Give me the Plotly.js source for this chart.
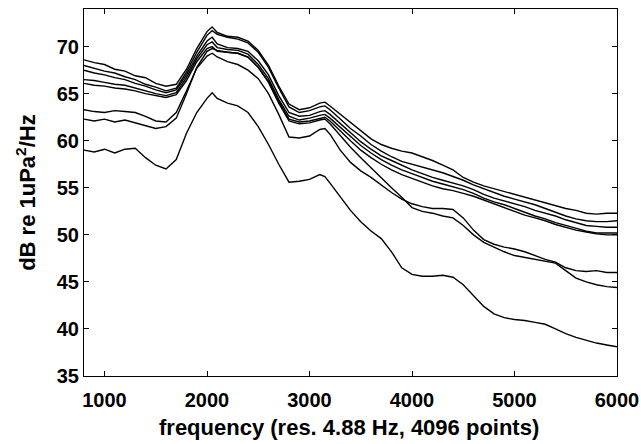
<!DOCTYPE html>
<html>
<head>
<meta charset="utf-8">
<script src="https://cdn.plot.ly/plotly-3.0.1.min.js"></script>
<style>html,body{margin:0;padding:0;background:#fff;}#chart{width:641px;height:444px;}</style>
</head>
<body>
<div id="chart"></div>
<script>
var freq = [800,900,1000,1100,1200,1300,1400,1500,1600,1700,1800,1900,2000,2050,2100,2200,2300,2400,2500,2600,2700,2800,2900,3000,3100,3150,3200,3300,3400,3500,3600,3700,3800,3900,4000,4100,4200,4300,4400,4500,4600,4700,4800,4900,5000,5100,5200,5300,5400,5500,5600,5700,5800,5900,6000];

var seriesA = [68.6,68.3,68.1,67.6,67.4,66.9,66.7,66.1,65.8,66.0,67.6,69.8,71.6,72.1,71.5,71.1,71.0,70.6,69.6,68.0,65.8,63.9,63.3,63.5,64.0,64.1,63.7,62.8,61.9,61.0,60.2,59.6,59.2,58.9,58.7,58.3,57.9,57.4,56.9,56.1,55.6,55.2,54.9,54.6,54.3,54.0,53.7,53.4,53.1,52.8,52.6,52.3,52.2,52.3,52.3];
var seriesB = [68.0,67.7,67.4,67.2,66.8,66.5,66.0,65.7,65.3,65.6,67.3,69.4,71.2,71.7,71.3,71.0,70.8,70.4,69.4,67.8,65.6,63.6,63.0,63.2,63.6,63.7,63.3,62.3,61.3,60.5,59.6,58.9,58.3,57.8,57.5,57.2,56.9,56.6,56.2,55.8,55.3,54.9,54.5,54.1,53.8,53.5,53.2,52.8,52.4,52.0,51.7,51.5,51.4,51.4,51.5];
var seriesC = [67.5,67.2,67.0,66.7,66.5,66.1,65.8,65.4,65.1,65.4,67.0,69.0,70.6,71.0,70.3,69.9,69.8,69.5,68.5,67.0,64.8,63.0,62.6,62.7,63.1,63.2,62.8,61.8,60.8,59.9,59.1,58.4,57.9,57.4,56.9,56.5,56.1,55.8,55.5,55.2,54.8,54.3,53.9,53.6,53.3,53.0,52.6,52.3,52.0,51.6,51.3,51.0,50.9,50.8,50.8];
var seriesD = [66.5,66.4,66.2,66.0,65.9,65.6,65.3,65.0,64.8,65.1,66.7,68.7,70.2,70.5,69.9,69.7,69.6,69.2,68.1,66.6,64.4,62.6,62.2,62.4,62.7,62.8,62.4,61.4,60.4,59.5,58.7,58.0,57.4,56.9,56.5,56.1,55.7,55.4,55.1,54.8,54.4,53.9,53.5,53.2,52.8,52.4,52.0,51.7,51.3,51.0,50.7,50.4,50.2,50.2,50.2];
var seriesH = [66.1,65.9,65.8,65.6,65.5,65.3,65.0,64.8,64.6,64.9,66.4,68.4,69.8,70.0,69.5,69.4,69.3,68.9,67.8,66.3,64.2,62.3,62.0,62.1,62.4,62.5,62.1,61.0,60.0,59.0,58.2,57.5,56.9,56.4,56.0,55.6,55.2,54.9,54.7,54.4,54.1,53.7,53.3,52.9,52.5,52.1,51.8,51.5,51.1,50.8,50.5,50.3,50.1,50.0,50.0];
var seriesE = [63.3,63.1,63.0,63.2,63.1,63.0,62.6,62.1,62.0,63.0,65.3,67.7,69.0,69.3,68.9,68.4,68.1,67.5,66.6,65.0,62.8,60.4,60.3,60.5,61.2,61.3,60.7,59.0,57.7,56.8,56.1,55.3,54.5,53.8,53.3,53.0,52.8,52.8,52.7,51.8,50.5,49.5,49.0,48.7,48.5,48.2,47.8,47.4,47.1,46.5,46.2,46.1,46.2,46.0,46.0];
var seriesF = [62.3,62.1,62.3,62.0,62.2,61.9,61.6,61.3,61.5,62.4,65.0,67.8,69.5,69.8,69.6,69.4,69.3,68.9,67.8,66.2,64.0,62.1,61.8,61.9,62.2,62.3,61.8,60.5,59.3,58.2,57.1,56.0,55.0,54.0,52.9,52.5,52.3,52.0,51.8,51.0,50.0,49.2,48.7,48.2,47.8,47.6,47.4,47.2,47.0,46.2,45.4,45.0,44.7,44.5,44.4];
var seriesG = [59.0,58.8,59.1,58.7,59.1,59.2,58.2,57.4,57.0,58.0,60.8,63.0,64.5,65.1,64.5,64.0,63.7,63.0,61.5,59.6,57.5,55.6,55.7,55.9,56.4,56.2,55.5,54.0,52.6,51.4,50.4,49.6,48.2,46.5,45.8,45.6,45.6,45.7,45.5,44.7,43.6,42.4,41.6,41.2,41.0,40.9,40.7,40.5,40.0,39.5,39.1,38.8,38.5,38.3,38.1];

var xTickVals = [1000,2000,3000,4000,5000,6000];
var yTickVals = [35,40,45,50,55,60,65,70];
var xTitle = 'frequency (res. 4.88 Hz, 4096 points)';
var yTitle = 'dB re 1uPa<sup>2</sup>/Hz';

var allSeries = [seriesA, seriesB, seriesC, seriesD, seriesH, seriesE, seriesF, seriesG];
var traces = allSeries.map(function(s){
  return {x: freq, y: s, type: 'scatter', mode: 'lines', line: {color: '#000', width: 1.4}, showlegend: false, hoverinfo: 'skip'};
});

var fam = 'Liberation Sans, Arial, sans-serif';
var tickFont = {family: fam, size: 20, color: '#000', weight: 'bold'};
var titleFont = {family: fam, size: 22, color: '#000', weight: 'bold'};
var layout = {
  width: 641, height: 444,
  margin: {l: 84, r: 24, t: 9, b: 68},
  paper_bgcolor: '#fff', plot_bgcolor: '#fff',
  showlegend: false,
  xaxis: {
    range: [800, 6000], tickvals: xTickVals, ticktext: xTickVals.map(String),
    ticks: 'inside', ticklen: 5, tickwidth: 1, tickcolor: '#000',
    showline: true, linecolor: '#000', linewidth: 1, mirror: 'ticks',
    showgrid: false, zeroline: false, tickfont: tickFont, ticklabelstandoff: 6
  },
  yaxis: {
    range: [35, 74], tickvals: yTickVals, ticktext: yTickVals.map(String),
    ticks: 'inside', ticklen: 5, tickwidth: 1, tickcolor: '#000',
    showline: true, linecolor: '#000', linewidth: 1, mirror: 'ticks',
    showgrid: false, zeroline: false, tickfont: tickFont
  },
  annotations: [
    {text: xTitle, xref: 'paper', yref: 'paper', x: 0.497, y: -0.139, xanchor: 'center', yanchor: 'middle', showarrow: false, font: titleFont},
    {text: yTitle, xref: 'paper', yref: 'paper', x: -0.11, y: 0.5, xanchor: 'center', yanchor: 'middle', textangle: -90, showarrow: false, font: titleFont}
  ]
};
Plotly.newPlot('chart', traces, layout, {staticPlot: true, displayModeBar: false});
</script>
</body>
</html>
